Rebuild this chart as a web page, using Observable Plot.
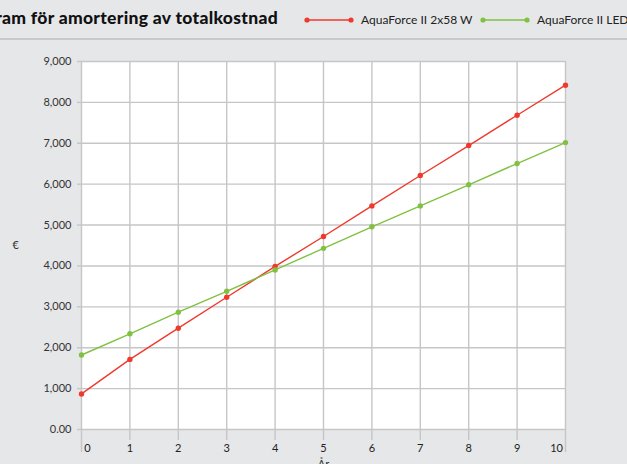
<!DOCTYPE html>
<html>
<head>
<meta charset="utf-8">
<script src="https://cdn.jsdelivr.net/npm/d3@7"></script>
<script src="https://cdn.jsdelivr.net/npm/@observablehq/plot@0.6"></script>
<style>
  html, body { margin:0; padding:0; width:627px; height:464px; overflow:hidden; background:#e6e7e9; font-family: Lato, "Open Sans", sans-serif; }
  #header { position:relative; height:38px; border-bottom:2px solid #c9c9cb; }
  #title { position:absolute; right:349px; top:7px; font-weight:900; font-size:17.5px; letter-spacing:0.3px; color:#111; white-space:nowrap; }
  .leg { position:absolute; top:12px; display:flex; align-items:center; white-space:nowrap; font-size:12px; color:#222; }
  .leg svg { margin-right:7px; }
  #chart svg { display:block; }
</style>
</head>
<body>
<div id="header">
  <div id="title"></div>
  <div id="legend"></div>
</div>
<div id="chart"></div>
<script>
const titleText = "Diagram för amortering av totalkostnad";
const seriesNames = ["AquaForce II 2x58 W", "AquaForce II LED"];
const seriesColors = ["#f0392d", "#80c142"];
const years = [0, 1, 2, 3, 4, 5, 6, 7, 8, 9, 10];
const redValues = [870, 1715, 2478, 3234, 3990, 4720, 5468, 6212, 6944, 7686, 8420];
const greenValues = [1822, 2340, 2868, 3380, 3902, 4430, 4958, 5468, 5985, 6505, 7017];
const yTicks = [0, 1000, 2000, 3000, 4000, 5000, 6000, 7000, 8000, 9000];
const yLabel = "€";
const xLabel = "År";

document.getElementById("title").textContent = titleText;

// legend
const legend = document.getElementById("legend");
const legLeft = [304, 480];
seriesNames.forEach((name, i) => {
  const d = document.createElement("div");
  d.className = "leg";
  d.style.left = legLeft[i] + "px";
  d.innerHTML = `<svg width="50" height="8"><line x1="3" x2="47" y1="4" y2="4" stroke="${seriesColors[i]}" stroke-width="1.4"/><circle cx="3" cy="4" r="2.6" fill="${seriesColors[i]}"/><circle cx="47" cy="4" r="2.6" fill="${seriesColors[i]}"/></svg><span>${name}</span>`;
  legend.appendChild(d);
});

const data = [];
years.forEach((yr, i) => {
  data.push({year: yr, value: redValues[i], series: seriesNames[0]});
});
years.forEach((yr, i) => {
  data.push({year: yr, value: greenValues[i], series: seriesNames[1]});
});

const fmt = d => d === 0 ? "0.00" : d3.format(",")(d);
const gridColor = "#c6c6c8";
const middleYears = years.slice(1, -1);
const endYears = [years[0], years[years.length - 1]];

const chart = Plot.plot({
  width: 627,
  height: 424,
  marginLeft: 81,
  marginRight: 62,
  marginTop: 21,
  marginBottom: 35,
  style: {background: "transparent", fontFamily: "Lato, 'Open Sans', sans-serif", fontSize: "11px", color: "#333"},
  x: {domain: [0, 10]},
  y: {domain: [0, 9000]},
  color: {domain: seriesNames, range: seriesColors},
  marks: [
    Plot.frame({fill: "white", stroke: "none"}),
    Plot.gridY(yTicks, {stroke: gridColor, strokeOpacity: 1, strokeWidth: 1.4}),
    Plot.gridX(years, {stroke: gridColor, strokeOpacity: 1, strokeWidth: 1.4}),
    Plot.axisY(yTicks, {tickSize: 4, tickPadding: 6, tickFormat: fmt, stroke: gridColor, strokeWidth: 1.4, fill: "#333", label: null}),
    Plot.axisX(middleYears, {tickSize: 11, tickPadding: 4, stroke: gridColor, strokeWidth: 1.4, fill: "#222", label: null}),
    Plot.axisX(endYears, {tickSize: 23, stroke: gridColor, strokeWidth: 1.4, text: null, label: null}),
    Plot.axisX([years[0]], {tickSize: 0, tickPadding: 15, dx: 6, fill: "#222", label: null}),
    Plot.axisX([years[years.length - 1]], {tickSize: 0, tickPadding: 15, dx: -9, fill: "#222", label: null}),
    Plot.text([yLabel], {frameAnchor: "left", dx: -69, fill: "#333", fontSize: 11}),
    Plot.text([xLabel], {frameAnchor: "bottom", dy: 38, fill: "#333", fontSize: 11}),
    Plot.line(data, {x: "year", y: "value", z: "series", stroke: "series", strokeWidth: 1.4}),
    Plot.dot(data, {x: "year", y: "value", fill: "series", r: 2.7})
  ]
});
document.getElementById("chart").appendChild(chart);
</script>
</body>
</html>
